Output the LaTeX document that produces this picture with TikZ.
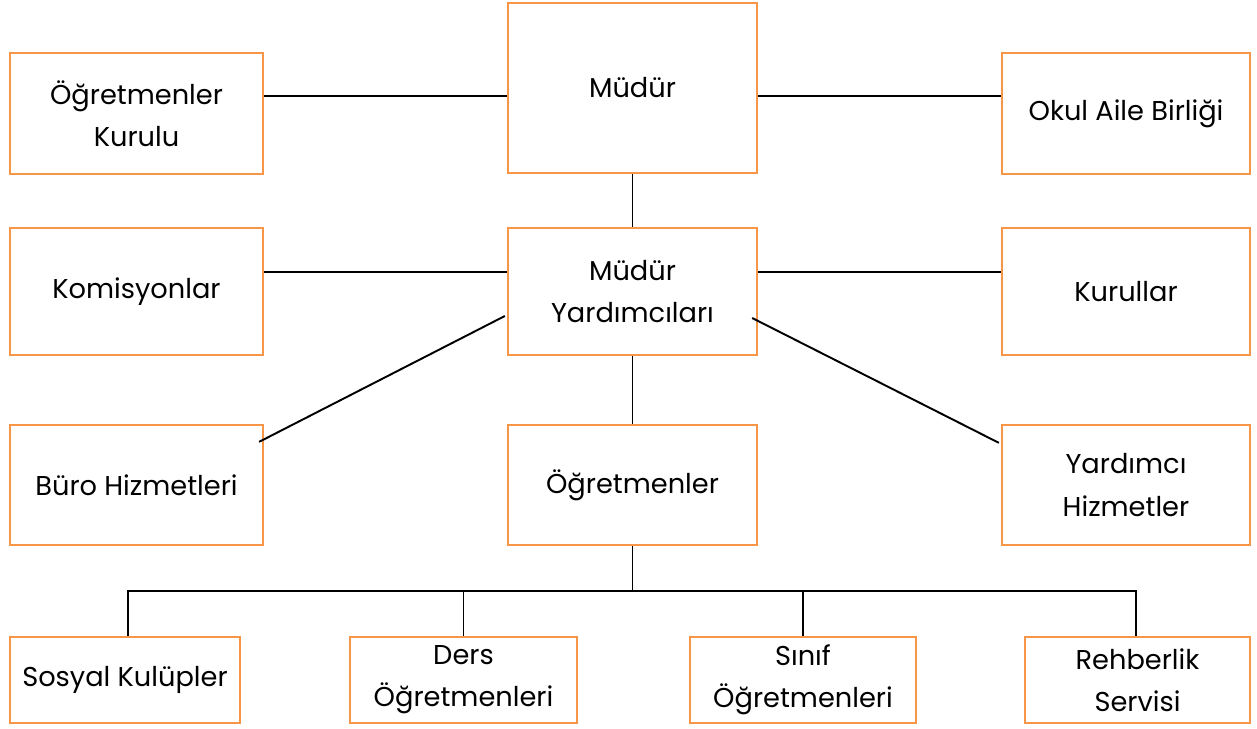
\documentclass[tikz,border=0pt]{standalone}
\usepackage{fontspec}
\setmainfont{Poppins}
\usepackage{tikz}
\usetikzlibrary{calc}
\definecolor{boxorange}{RGB}{247,150,70}

\begin{document}
\begin{tikzpicture}[
    unit/.style={draw=boxorange, line width=1.3pt, align=center, inner sep=0pt,
      font=\fontsize{15.5}{24}\selectfont},
    link/.style={line width=1.1pt}]
  \useasboundingbox (0,0) rectangle (25.14,14.58);

  \node[unit, minimum width=5.06cm, minimum height=2.42cm] (kurul) at (2.73,12.31) {Öğretmenler\\Kurulu};
  \node[unit, minimum width=4.98cm, minimum height=3.40cm] (mudur) at (12.65,12.82) {Müdür};
  \node[unit, minimum width=4.96cm, minimum height=2.42cm] (okul) at (22.52,12.31) {Okul Aile Birliği};

  \node[unit, minimum width=5.06cm, minimum height=2.54cm] (komisyon) at (2.73,8.75) {Komisyonlar};
  \node[unit, minimum width=4.98cm, minimum height=2.54cm] (yard) at (12.65,8.75) {Müdür\\Yardımcıları};
  \node[unit, minimum width=4.96cm, minimum height=2.54cm] (kurullar) at (22.52,8.75) {Kurullar};

  \node[unit, minimum width=5.06cm, minimum height=2.40cm] (buro) at (2.73,4.88) {Büro Hizmetleri};
  \node[unit, minimum width=4.98cm, minimum height=2.40cm] (ogretmen) at (12.65,4.88) {Öğretmenler};
  \node[unit, minimum width=4.96cm, minimum height=2.40cm] (yardimci) at (22.52,4.88) {Yardımcı\\Hizmetler};

  \node[unit, minimum width=4.60cm, minimum height=1.72cm] (sosyal) at (2.50,0.98) {Sosyal Kulüpler};
  \node[unit, minimum width=4.54cm, minimum height=1.72cm] (ders) at (9.27,0.98) {Ders\\Öğretmenleri};
  \node[unit, minimum width=4.52cm, minimum height=1.72cm] (sinif) at (16.06,0.98) {Sınıf\\Öğretmenleri};
  \node[unit, minimum width=4.50cm, minimum height=1.72cm] (rehber) at (22.75,0.98) {Rehberlik\\Servisi};

  % top rows
  \draw[link] ([yshift=3.5mm]kurul.east) -- ([yshift=3.5mm]kurul.east -| mudur.west);
  \draw[link] ([yshift=3.5mm]okul.west) -- ([yshift=3.5mm]okul.west -| mudur.east);
  \draw[link] (mudur.south) -- (yard.north);
  \draw[link] ([yshift=3.9mm]komisyon.east) -- ([yshift=3.9mm]komisyon.east -| yard.west);
  \draw[link] ([yshift=3.9mm]kurullar.west) -- ([yshift=3.9mm]kurullar.west -| yard.east);
  \draw[link] ([shift={(-0.04,-0.49)}]yard.west) -- ([shift={(-0.10,-0.36)}]buro.north east);
  \draw[link] ([shift={(-0.12,-0.53)}]yard.east) -- ([shift={(-0.04,-0.38)}]yardimci.north west);
  \draw[link] (yard.south) -- (ogretmen.north);

  % teachers
  \coordinate (bus) at ([yshift=-9mm]ogretmen.south);
  \draw[link] (ogretmen.south) -- (bus);
  \draw[link] ([xshift=0.6mm]sosyal.north) |- (bus) -| ([xshift=-0.3mm]rehber.north);
  \draw[link] (ders.north) -- (ders.north |- bus);
  \draw[link] (sinif.north) -- (sinif.north |- bus);
\end{tikzpicture}
\end{document}
